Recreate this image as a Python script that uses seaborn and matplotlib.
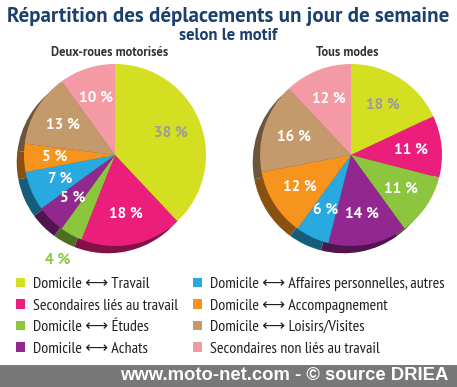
import numpy as np
import matplotlib
matplotlib.use("Agg")
import matplotlib.pyplot as plt
import seaborn as sns
from matplotlib.colors import to_rgb
from matplotlib.patches import Rectangle

# ---------------- data ----------------
categories = [
    "Domicile ⟷ Travail",
    "Secondaires liés au travail",
    "Domicile ⟷ Études",
    "Domicile ⟷ Achats",
    "Domicile ⟷ Affaires personnelles, autres",
    "Domicile ⟷ Accompagnement",
    "Domicile ⟷ Loisirs/Visites",
    "Secondaires non liés au travail",
]
deux_roues = [38, 18, 4, 5, 7, 5, 13, 10]
tous_modes = [18, 11, 11, 14, 6, 12, 16, 12]
pie_titles = ["Deux-roues motorisés", "Tous modes"]

colors = ["#D5DF22", "#EC1E7B", "#8CC63E", "#92278F",
          "#28A9E0", "#F7941E", "#C49A6C", "#F49AA5"]

# ---------------- style ----------------
sns.set_theme(style="white")
HEAD = ["PT Sans", "DejaVu Sans"]
LEGF = ["PT Sans Narrow", "DejaVu Sans"]
plt.rcParams["font.family"] = HEAD

W, H = 457, 387
fig = plt.figure(figsize=(W / 100, H / 100), dpi=100)
fig.patch.set_facecolor("white")

R = 91          # pie radius in px
PAD = 1.15
side = 2 * PAD * R


def axes_at(cx, cy):
    return fig.add_axes([(cx - side / 2) / W, (H - cy - side / 2) / H, side / W, side / H])


def darker(c, f=0.55):
    r, g, b = to_rgb(c)
    return (r * f, g * f, b * f)


shadow_colors = [darker(c) for c in colors]
centers = [(115, 155), (351, 155)]
datasets = [deux_roues, tous_modes]
handles = None

for (cx, cy), vals in zip(centers, datasets):
    ax = axes_at(cx, cy)
    ax.pie(vals, colors=shadow_colors, startangle=90, counterclock=False,
           radius=1, center=(-0.08, -0.08), wedgeprops=dict(linewidth=0))
    wedges, _ = ax.pie(vals, colors=colors, startangle=90, counterclock=False,
                       radius=1, center=(0, 0), wedgeprops=dict(linewidth=0))
    if handles is None:
        handles = wedges
    for i, (w, v) in enumerate(zip(wedges, vals)):
        mid = np.deg2rad((w.theta1 + w.theta2) / 2)
        if v < 5:
            rr, col = 1.31, colors[i]
        else:
            rr, col = 0.66, ("#9B9B9B" if i == 0 else "white")
        ax.text(rr * np.cos(mid), rr * np.sin(mid), f"{v} %", ha="center", va="center",
                color=col, fontsize=11, fontweight="bold")
    ax.set_xlim(-PAD, PAD)
    ax.set_ylim(-PAD, PAD)
    ax.set_aspect("equal")
    ax.axis("off")

# ---------------- titles ----------------
navy = "#1B3F6E"
fig.text(228 / W, 1 - 16 / H, "Répartition des déplacements un jour de semaine",
         ha="center", va="center", color=navy, fontsize=15, fontweight="bold")
fig.text(228 / W, 1 - 35 / H, "selon le motif", ha="center", va="center",
         color=navy, fontsize=12, fontweight="bold")
fig.text(110 / W, 1 - 53 / H, pie_titles[0], ha="center", va="center",
         color="#333333", fontsize=9, fontweight="bold")
fig.text(347 / W, 1 - 53 / H, pie_titles[1], ha="center", va="center",
         color="#333333", fontsize=9, fontweight="bold")

# ---------------- legend ----------------
leg_kw = dict(ncol=1, frameon=False, loc="upper left",
              handlelength=0.55, handleheight=0.55, handletextpad=0.5,
              labelspacing=0.47, borderaxespad=0, borderpad=0,
              prop=dict(family=LEGF, size=11.5))
leg1 = fig.legend(handles[:4], categories[:4], bbox_to_anchor=(16 / W, 1 - 277 / H), **leg_kw)
leg2 = fig.legend(handles[4:], categories[4:], bbox_to_anchor=(193 / W, 1 - 277 / H), **leg_kw)
for lg in (leg1, leg2):
    for t in lg.get_texts():
        t.set_color("#231F20")

# ---------------- footer ----------------
fig.patches.append(Rectangle((0, 0), 1, 22 / H, transform=fig.transFigure,
                             facecolor="#787878", edgecolor="none", zorder=0))
fig.text(448 / W, 11 / H, "www.moto-net.com - © source DRIEA", ha="right", va="center",
         color="white", fontsize=13.3, fontweight="bold", family=["Liberation Sans", "DejaVu Sans"])

fig.savefig("out.png", dpi=100)
